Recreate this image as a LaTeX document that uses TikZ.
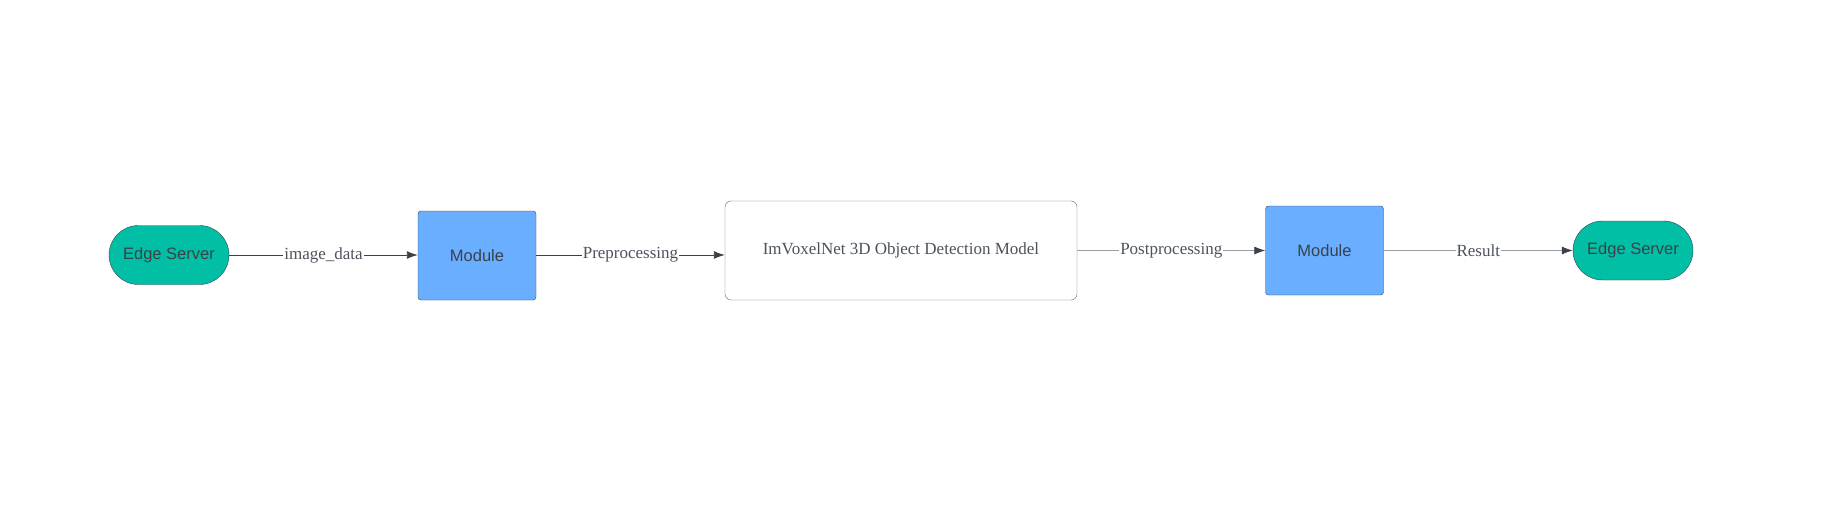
\documentclass[tikz,border=0pt]{standalone}
\usepackage{fontspec}
\setmainfont{Liberation Serif}
\newfontfamily\boxfont{Liberation Sans}
\usetikzlibrary{arrows.meta}

\definecolor{edgegreen}{HTML}{00BFA5}
\definecolor{moduleblue}{HTML}{6AAFFF}
\definecolor{linedark}{HTML}{3A414A}
\definecolor{linegray}{HTML}{9A9EA6}
\definecolor{labelgray}{HTML}{4C535C}

\begin{document}
\begin{tikzpicture}[x=1pt, y=-1pt,
        server/.style={draw=linedark, fill=edgegreen, rounded corners=29.5pt,
            minimum width=120pt, minimum height=59pt, inner sep=0pt,
            font=\boxfont\fontsize{16.5}{19}\selectfont, text=linedark},
        module/.style={draw=linedark, fill=moduleblue, rounded corners=3pt,
            minimum width=118pt, minimum height=89pt, inner sep=0pt,
            font=\boxfont\fontsize{16.5}{19}\selectfont, text=linedark},
        model/.style={draw=linedark!80, fill=white, rounded corners=6pt,
            minimum width=352pt, minimum height=99pt, inner sep=0pt,
            font=\fontsize{17}{20}\selectfont, text=labelgray},
        flow/.style={-{Latex[length=11pt,width=8pt]}, line width=0.9pt},
        flowtag/.style={fill=white, inner sep=1pt, text=labelgray,
            font=\fontsize{17}{20}\selectfont}]
        \useasboundingbox (0,0) rectangle (1824,516);

        \node[server] (src) at (169,255) {Edge Server};
        \node[module] (pre) at (477,255.5) {Module};
        \node[model] (net) at (901,250.5) {ImVoxelNet 3D Object Detection Model};
        \node[module] (post) at (1324.5,250.5) {Module};
        \node[server] (dst) at (1633,250.5) {Edge Server};

        \draw[flow, draw=linedark] (src.east) -- (pre.west |- src.east)
            node[midway, flowtag] {image\_data};
        \draw[flow, draw=linedark] (pre.east |- src.east) -- (net.west |- src.east)
            node[midway, flowtag] {Preprocessing};
        \draw[flow, draw=linegray, line width=0.7pt, -{Latex[length=11pt,width=8pt,fill=linedark,color=linedark]}] (net.east |- post.west) -- (post.west)
            node[midway, flowtag] {Postprocessing};
        \draw[flow, draw=linegray, line width=0.7pt, -{Latex[length=11pt,width=8pt,fill=linedark,color=linedark]}] (post.east) -- (dst.west)
            node[midway, flowtag] {Result};
    \end{tikzpicture}
\end{document}
